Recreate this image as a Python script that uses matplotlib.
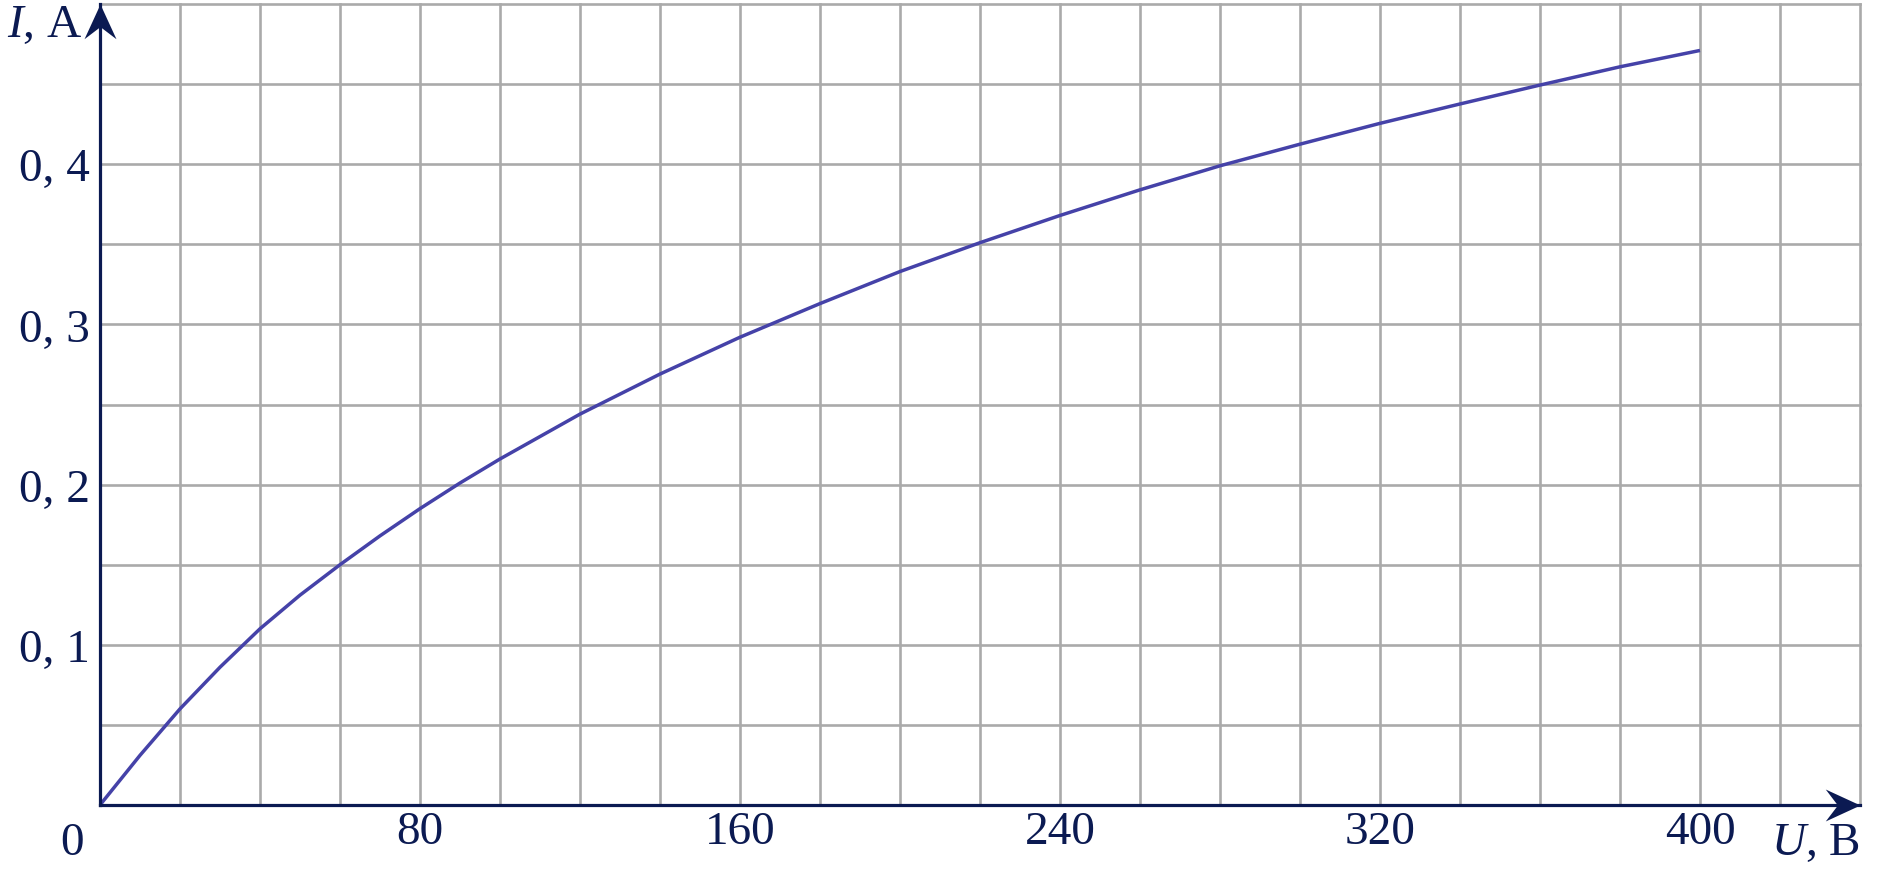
import numpy as np
import matplotlib
matplotlib.use("Agg")
import matplotlib.pyplot as plt
from matplotlib.path import Path

plt.rcParams["font.family"] = ["Liberation Serif", "DejaVu Serif"]
plt.rcParams["mathtext.fontset"] = "custom"
plt.rcParams["mathtext.rm"] = "Liberation Serif"
plt.rcParams["mathtext.it"] = "Liberation Serif:italic"

# current-voltage curve
U = [0, 10, 20, 30, 40, 50, 60, 70, 80, 90, 100, 120, 140, 160, 180, 200,
     220, 240, 260, 280, 300, 320, 340, 360, 380, 400]
I = [0.0, 0.031, 0.060, 0.086, 0.110, 0.131, 0.150, 0.168, 0.185, 0.201,
     0.216, 0.244, 0.269, 0.292, 0.313, 0.333, 0.351, 0.368, 0.384, 0.399,
     0.4125, 0.4255, 0.4376, 0.4494, 0.4608, 0.471]

x_ticks = [80, 160, 240, 320, 400]
x_labels = ["80", "160", "240", "320", "400"]
y_ticks = [0.1, 0.2, 0.3, 0.4]
y_labels = ["0, 1", "0, 2", "0, 3", "0, 4"]
x_max, y_max = 440, 0.5
x_step, y_step = 20, 0.05

navy = "#0b1a52"
curve = "#4542a8"
grid = "#aaaaaa"

fig = plt.figure(figsize=(18.81, 8.78), dpi=100)
ax = fig.add_axes([100/1881, 72/878, 1760/1881, 801/878])
ax.set_xlim(0, x_max)
ax.set_ylim(0, y_max)

# grid (kept unclipped so the outer lines are full width)
for gx in np.arange(x_step, x_max + 1e-9, x_step):
    ax.axvline(gx, color=grid, lw=1.9, zorder=1, clip_on=False)
for gy in np.arange(y_step, y_max + 1e-9, y_step):
    ax.axhline(gy, color=grid, lw=1.9, zorder=1, clip_on=False)

ax.plot(U, I, color=curve, lw=2.5, zorder=3, solid_capstyle="butt",
        solid_joinstyle="round")

for side in ["top", "right"]:
    ax.spines[side].set_visible(False)
for side in ["left", "bottom"]:
    ax.spines[side].set_color(navy)
    ax.spines[side].set_linewidth(2.3)
    ax.spines[side].set_zorder(4)

ax.set_xticks(x_ticks, x_labels)
ax.set_yticks(y_ticks, y_labels)
ax.tick_params(length=0, labelsize=34, labelcolor=navy)
ax.tick_params(axis="x", pad=4)
ax.tick_params(axis="y", pad=7)

# arrow heads on the axes
head_x = Path([(0, 0), (-1, 0.46), (-0.65, 0), (-1, -0.46), (0, 0)],
              [Path.MOVETO, Path.LINETO, Path.LINETO, Path.LINETO, Path.CLOSEPOLY])
head_y = Path([(0, 0), (0.46, -1), (0, -0.65), (-0.46, -1), (0, 0)],
              [Path.MOVETO, Path.LINETO, Path.LINETO, Path.LINETO, Path.CLOSEPOLY])
ax.plot([x_max], [0], marker=head_x, ms=50, color=navy, mew=0, clip_on=False, zorder=5)
ax.plot([0], [y_max], marker=head_y, ms=50, color=navy, mew=0, clip_on=False, zorder=5)

ax.annotate("0", xy=(0, 0), xytext=(-20, -12), textcoords="offset points",
            ha="center", va="top", fontsize=34, color=navy)
ax.annotate(r"$I$, A", xy=(0, y_max), xytext=(-13, 0), textcoords="offset points",
            ha="right", va="top", fontsize=34, color=navy, annotation_clip=False)
ax.annotate(r"$U$, B", xy=(x_max, 0), xytext=(0, -12), textcoords="offset points",
            ha="right", va="top", fontsize=34, color=navy, annotation_clip=False)

fig.savefig("out.png", dpi=100)
